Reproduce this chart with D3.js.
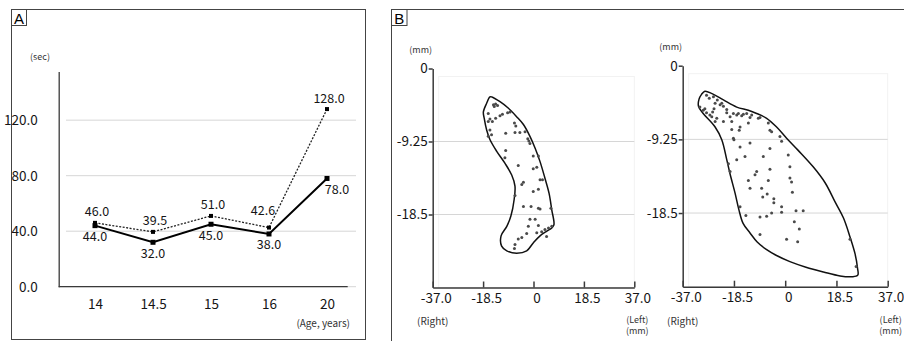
<!DOCTYPE html>
<html>
<head>
<meta charset="utf-8">
<script src="https://cdn.jsdelivr.net/npm/d3@7"></script>
<style>
  html, body { margin: 0; padding: 0; background: #fff; }
  svg { display: block; font-family: "Noto Sans CJK JP", "Noto Sans", sans-serif; }
</style>
</head>
<body>
<svg id="chart" width="904" height="341"></svg>
<script>
// ---- panel A data ----
const ages = ["14", "14.5", "15", "16", "20"];
const timeSolid = [44.0, 32.0, 45.0, 38.0, 78.0];
const timeDotted = [46.0, 39.5, 51.0, 42.6, 128.0];
const secTicks = [0, 40, 80, 120];

// ---- panel B data (mm) ----
const mmTicksX = [-37, -18.5, 0, 18.5, 37];
const mmTickLabelsX = ["-37.0", "-18.5", "0", "18.5", "37.0"];
const mmTicksY = [0, -9.25, -18.5];
const mmTickLabelsY = ["0", "-9.25", "-18.5"];

const outlineLeft = [
  [-16.0, -3.6], [-15.3, -3.6], [-12.3, -4.2], [-9.3, -5.0], [-6.2, -6.1], [-3.7, -7.1],
  [-1.3, -8.6], [0.6, -10.1], [2.4, -11.8], [4.2, -13.9], [5.7, -15.8], [6.7, -17.9],
  [7.5, -19.8], [6.7, -20.2], [4.9, -20.6], [2.4, -21.2], [-0.1, -22.1], [-2.5, -23.1],
  [-6.2, -23.4], [-9.8, -23.1], [-11.7, -22.5], [-11.9, -21.2], [-9.8, -20.0], [-8.3, -18.7],
  [-7.1, -16.6], [-6.8, -14.9], [-8.0, -13.5], [-10.5, -12.0], [-13.5, -10.5], [-16.0, -9.0],
  [-17.2, -7.8], [-18.1, -6.3], [-18.4, -5.5], [-17.2, -4.4]
];
const dotsLeft = [
  [-14.7, -4.6], [-13.9, -4.5], [-13.2, -4.7], [-14.4, -4.8], [-16.6, -5.7], [-16.0, -6.4],
  [-15.1, -6.7], [-13.9, -6.3], [-12.3, -6.0], [-11.4, -5.8], [-9.5, -5.6], [-8.6, -5.5],
  [-16.6, -6.7], [-16.0, -7.8], [-15.4, -8.4], [-16.6, -8.6], [-10.2, -8.2], [-7.0, -6.9],
  [-6.5, -7.3], [-6.8, -8.1], [-5.0, -8.1], [-3.1, -8.0], [-2.1, -8.9], [-1.7, -9.2],
  [-1.3, -9.5], [-10.2, -10.4], [-10.5, -11.3], [-0.1, -11.1], [1.8, -11.1], [-5.6, -12.3],
  [-0.1, -12.7], [1.2, -12.5], [-3.7, -14.4], [-4.3, -14.7], [2.4, -14.1], [1.8, -15.3],
  [3.3, -14.1], [-0.1, -15.6], [-3.7, -17.5], [-0.9, -17.5], [1.8, -17.7], [2.4, -17.8],
  [6.4, -17.7], [-6.8, -16.1], [-1.3, -19.1], [0.6, -19.1], [-1.9, -20.0], [1.2, -20.8],
  [3.0, -20.7], [4.2, -20.4], [5.5, -20.2], [6.7, -20.0], [1.8, -19.9], [-5.6, -21.6],
  [-4.3, -21.4], [-6.8, -22.3], [-7.0, -22.8], [-2.5, -20.9], [4.8, -21.3]
];

const outlineRight = [
  [-29.0, -3.2], [-26.4, -3.5], [-22.3, -4.3], [-17.5, -5.2], [-13.3, -5.6], [-10.3, -6.0],
  [-6.7, -6.6], [-3.1, -7.7], [0.5, -9.1], [4.6, -10.6], [10.1, -12.7], [14.4, -14.7],
  [18.0, -17.1], [21.0, -19.1], [23.4, -21.5], [25.2, -23.6], [26.1, -25.4], [26.2, -26.3],
  [24.1, -26.5], [19.8, -26.4], [13.8, -25.9], [7.5, -25.3], [1.7, -24.6], [-3.3, -23.8],
  [-6.7, -23.1], [-10.2, -22.1], [-12.7, -21.0], [-15.2, -19.8], [-16.7, -18.1], [-18.1, -16.0],
  [-19.9, -13.6], [-21.1, -11.8], [-22.9, -9.3], [-25.3, -7.7], [-29.6, -6.0], [-31.3, -5.1],
  [-31.1, -4.2], [-30.2, -3.6]
];
const dotsRight = [
  [-28.4, -3.7], [-27.4, -4.1], [-25.9, -3.9], [-24.5, -4.3], [-25.3, -4.7], [-23.5, -4.9],
  [-25.7, -5.4], [-26.2, -5.8], [-22.9, -4.7], [-22.3, -5.1], [-21.1, -5.5], [-30.8, -5.2],
  [-29.6, -5.6], [-29.0, -5.4], [-28.4, -5.9], [-27.2, -6.2], [-26.5, -6.4], [-24.7, -6.6],
  [-25.3, -7.0], [-22.3, -7.0], [-21.1, -5.9], [-19.9, -6.4], [-19.3, -7.0], [-18.7, -6.0],
  [-17.5, -6.2], [-16.9, -6.0], [-15.7, -6.3], [-15.1, -6.1], [-13.9, -6.0], [-12.7, -6.5],
  [-12.1, -6.2], [-13.3, -7.2], [-16.3, -7.7], [-16.6, -8.1], [-19.3, -8.0], [-18.7, -9.1],
  [-18.5, -9.3], [-9.7, -6.6], [-9.1, -6.5], [-6.1, -7.2], [-5.5, -8.1], [-4.9, -8.3],
  [-1.9, -8.9], [-1.3, -9.5], [-12.7, -9.7], [-16.3, -10.2], [-14.5, -11.4], [-17.5, -11.8],
  [-20.5, -12.3], [-19.9, -13.3], [-5.5, -10.4], [-7.9, -11.4], [1.1, -11.2], [1.7, -12.7],
  [1.7, -14.1], [2.3, -14.6], [-5.5, -13.0], [-10.3, -13.3], [-10.9, -13.7], [-13.3, -14.4],
  [-12.7, -15.4], [-8.5, -15.4], [-6.1, -14.4], [-6.5, -16.1], [-8.1, -16.5], [-4.1, -16.7],
  [-4.1, -17.2], [2.6, -15.9], [-1.3, -17.7], [-1.3, -18.4], [-4.9, -18.5], [-6.7, -18.9],
  [-9.1, -19.0], [-14.2, -18.8], [3.9, -18.2], [6.5, -18.2], [3.3, -19.6], [5.1, -20.5],
  [-9.1, -21.2], [0.5, -21.8], [4.5, -22.1], [23.4, -21.8], [25.6, -25.2], [-16.3, -17.7]
];

const svg = d3.select("#chart");
const axisColor = "#3a3a3a";
const gridColor = "#d6d6d6";
const textColor = "#151515";

// ================= Panel A =================
const gA = svg.append("g");
gA.append("rect")
  .attr("x", 11.5).attr("y", 9.5).attr("width", 354).attr("height", 330)
  .attr("fill", "none").attr("stroke", "#444");
gA.append("rect")
  .attr("x", 11.5).attr("y", 9.5).attr("width", 15).attr("height", 16)
  .attr("fill", "none").attr("stroke", "#444");
gA.append("text").attr("x", 19).attr("y", 23.5).attr("text-anchor", "middle")
  .style("font-size", "15px").style("font-family", "Liberation Sans, sans-serif").text("A");

const xA = d3.scalePoint().domain(ages).range([95, 327]);
const yA = d3.scaleLinear().domain([0, 155]).range([286.7, 71.6]);

// gridlines
gA.append("g").selectAll("line")
  .data(secTicks)
  .enter()
  .append("line")
  .attr("x1", function (d) { return d === 0 ? 58.7 : 66; })
  .attr("x2", 356)
  .attr("y1", function (d) { return yA(d); })
  .attr("y2", function (d) { return yA(d); })
  .attr("stroke", gridColor);

// y axis (line + labels, no ticks)
const yAxisA = gA.append("g")
  .attr("transform", "translate(58.7,0)")
  .call(d3.axisLeft(yA).tickValues(secTicks).tickSize(0).tickSizeOuter(0).tickPadding(21)
    .tickFormat(d3.format(".1f")))
  .attr("font-family", null).attr("font-size", null);
yAxisA.select(".domain").attr("stroke", axisColor).attr("stroke-width", 1.3);
yAxisA.selectAll("text").style("font-size", "13.5px").attr("fill", textColor);

// x axis
gA.append("line")
  .attr("x1", 58.7).attr("x2", 347.7).attr("y1", yA(0)).attr("y2", yA(0))
  .attr("stroke", axisColor).attr("stroke-width", 1.3);
const xAxisA = gA.append("g")
  .attr("transform", "translate(0," + yA(0) + ")")
  .call(d3.axisBottom(xA).tickSize(0).tickPadding(13))
  .attr("font-family", null).attr("font-size", null);
xAxisA.select(".domain").remove();
xAxisA.selectAll("text").style("font-size", "13.5px").attr("fill", textColor);

gA.append("text").attr("x", 40).attr("y", 60).attr("text-anchor", "middle")
  .style("font-size", "9px").attr("fill", "#333").text("(sec)");
gA.append("text").attr("x", 350).attr("y", 326.5).attr("text-anchor", "end")
  .style("font-size", "10px").attr("fill", "#333").text("(Age, years)");

const lineA = d3.line()
  .x(function (d, i) { return xA(ages[i]); })
  .y(function (d) { return yA(d); });

gA.append("path").datum(timeDotted)
  .attr("d", lineA).attr("fill", "none")
  .attr("stroke", "#222").attr("stroke-width", 1.3).attr("stroke-dasharray", "2,1.5");
gA.append("path").datum(timeSolid)
  .attr("d", lineA).attr("fill", "none")
  .attr("stroke", "#000").attr("stroke-width", 2);

gA.append("g").selectAll("rect")
  .data(timeDotted)
  .enter()
  .append("rect")
  .attr("x", function (d, i) { return xA(ages[i]) - 2; })
  .attr("y", function (d) { return yA(d) - 2; })
  .attr("width", 4).attr("height", 4).attr("fill", "#000");
gA.append("g").selectAll("rect")
  .data(timeSolid)
  .enter()
  .append("rect")
  .attr("x", function (d, i) { return xA(ages[i]) - 2.5; })
  .attr("y", function (d) { return yA(d) - 2.5; })
  .attr("width", 5).attr("height", 5).attr("fill", "#000");

// value labels: dotted above, solid below (a couple nudged off the lines)
const nudgeDotted = { 3: [-8, -6] };
const nudgeSolid = { 4: [10, 0] };
gA.append("g").selectAll("text")
  .data(timeDotted)
  .enter()
  .append("text")
  .attr("x", function (d, i) { return xA(ages[i]) + 2 + (nudgeDotted[i] ? nudgeDotted[i][0] : 0); })
  .attr("y", function (d, i) { return yA(d) - 6.5 + (nudgeDotted[i] ? nudgeDotted[i][1] : 0); })
  .attr("text-anchor", "middle")
  .style("font-size", "12.5px").attr("fill", textColor)
  .text(function (d) { return d.toFixed(1); });
gA.append("g").selectAll("text")
  .data(timeSolid)
  .enter()
  .append("text")
  .attr("x", function (d, i) { return xA(ages[i]) + (nudgeSolid[i] ? nudgeSolid[i][0] : 0); })
  .attr("y", function (d, i) { return yA(d) + 15.5 + (nudgeSolid[i] ? nudgeSolid[i][1] : 0); })
  .attr("text-anchor", "middle")
  .style("font-size", "12.5px").attr("fill", textColor)
  .text(function (d) { return d.toFixed(1); });

// ================= Panel B =================
const gB = svg.append("g");
gB.append("rect")
  .attr("x", 391.5).attr("y", 9.5).attr("width", 530).attr("height", 345)
  .attr("fill", "none").attr("stroke", "#444");
gB.append("rect")
  .attr("x", 391.5).attr("y", 9.5).attr("width", 15.5).attr("height", 16)
  .attr("fill", "none").attr("stroke", "#444");
gB.append("text").attr("x", 399.3).attr("y", 23.5).attr("text-anchor", "middle")
  .style("font-size", "15px").style("font-family", "Liberation Sans, sans-serif").text("B");

function drawScatter(xRange, yRange, outline, dots) {
  const x = d3.scaleLinear().domain([-37, 37]).range(xRange);
  const y = d3.scaleLinear().domain([-27.75, 0]).range(yRange);
  const g = gB.append("g");

  // faint plot area
  g.append("rect")
    .attr("x", x(-37) + 6).attr("y", y(0) + 8)
    .attr("width", x(37) - x(-37) - 6).attr("height", y(-27.75) - y(0) - 8)
    .attr("fill", "none").attr("stroke", "#f2f2f2");

  g.append("g").selectAll("line")
    .data(mmTicksY.slice(1))
    .enter()
    .append("line")
    .attr("x1", x(-37)).attr("x2", x(37))
    .attr("y1", function (d) { return y(d); })
    .attr("y2", function (d) { return y(d); })
    .attr("stroke", gridColor);

  const yAxis = g.append("g")
    .attr("transform", "translate(" + x(-37) + ",0)")
    .call(d3.axisLeft(y).tickValues(mmTicksY).tickSize(4).tickSizeOuter(0).tickPadding(1)
      .tickFormat(function (d, i) { return mmTickLabelsY[i]; }));
  const xAxis = g.append("g")
    .attr("transform", "translate(0," + y(-27.75) + ")")
    .call(d3.axisBottom(x).tickValues(mmTicksX).tickSizeInner(-6).tickSizeOuter(0).tickPadding(6)
      .tickFormat(function (d, i) { return mmTickLabelsX[i]; }));
  [yAxis, xAxis].forEach(function (a) {
    a.attr("font-family", null).attr("font-size", null);
    a.select(".domain").attr("stroke", axisColor).attr("stroke-width", 1.5);
    a.selectAll(".tick line").attr("stroke", axisColor).attr("stroke-width", 1.5);
    a.selectAll("text").style("font-size", "13.5px").attr("fill", textColor);
  });
  xAxis.selectAll("text").attr("dx", 3);

  g.append("text").attr("x", x(-37) - 12).attr("y", y(0) - 16).attr("text-anchor", "middle")
    .style("font-size", "9px").attr("fill", "#333").text("(mm)");
  g.append("text").attr("x", x(-37)).attr("y", 325).attr("text-anchor", "middle")
    .style("font-size", "10px").attr("fill", "#333").text("(Right)");
  g.append("text").attr("x", x(37) + 3).attr("y", 322.5).attr("text-anchor", "middle")
    .style("font-size", "9px").attr("fill", "#333").text("(Left)");
  g.append("text").attr("x", x(37) + 3).attr("y", 334).attr("text-anchor", "middle")
    .style("font-size", "9px").attr("fill", "#333").text("(mm)");

  const shape = d3.line()
    .x(function (d) { return x(d[0]); })
    .y(function (d) { return y(d[1]); })
    .curve(d3.curveCatmullRomClosed.alpha(0.5));
  g.append("path").datum(outline)
    .attr("d", shape).attr("fill", "none")
    .attr("stroke", "#111").attr("stroke-width", 1.5);

  g.append("g").selectAll("circle")
    .data(dots)
    .enter()
    .append("circle")
    .attr("cx", function (d) { return x(d[0]); })
    .attr("cy", function (d) { return y(d[1]); })
    .attr("r", 1.5)
    .attr("fill", "#4a4a4a");
}

drawScatter([432.7, 634.3], [287.5, 68.5], outlineLeft, dotsLeft);
drawScatter([682.7, 887.7], [286.7, 65.7], outlineRight, dotsRight);
</script>
</body>
</html>
